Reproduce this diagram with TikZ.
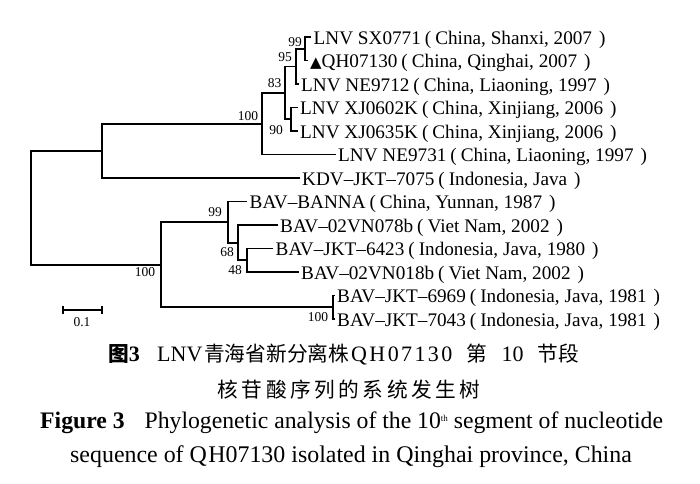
\documentclass[tikz,border=0pt]{standalone}
\usepackage{fontspec}
\setmainfont{Liberation Serif}
\newfontfamily\cjk{Noto Sans CJK SC}
\newfontfamily\symf{DejaVu Sans}
\newcommand{\myLP}{\hspace{4pt}(\hspace{4pt}}
\newcommand{\myRP}{\hspace{7pt})}
\begin{document}
\begin{tikzpicture}[x=1pt,y=-1pt,
  br/.style={line width=1.8pt,line join=miter},
  leaf/.style={anchor=west,inner xsep=2.5pt,inner ysep=0pt,text height=15pt,text depth=1pt,font=\fontsize{19.2}{20}\selectfont},
  bs/.style={inner sep=0pt,font=\fontsize{13.5}{14}\selectfont},
  captext/.style={inner sep=0pt,font=\fontsize{23.7}{26}\selectfont}]
\useasboundingbox (0,0) rectangle (700,483);
\fill[white] (0,0) rectangle (700,483);

% leaves
\node[leaf] (n0) at (311,37) {LNV SX0771\myLP China, Shanxi, 2007\myRP};
\node[leaf] (n1) at (307.5,60.5) {{\symf\fontsize{15}{15}\selectfont ▲}QH07130\myLP China, Qinghai, 2007\myRP};
\node[leaf] (n2) at (298.5,84) {LNV NE9712\myLP China, Liaoning, 1997\myRP};
\node[leaf] (n3) at (297.5,107.5) {LNV XJ0602K\myLP China, Xinjiang, 2006\myRP};
\node[leaf] (n4) at (297.5,131) {LNV XJ0635K\myLP China, Xinjiang, 2006\myRP};
\node[leaf] (n5) at (335.5,154.5) {LNV NE9731\myLP China, Liaoning, 1997\myRP};
\node[leaf] (n6) at (299.5,178) {KDV–JKT–7075\myLP Indonesia, Java\myRP};
\node[leaf] (n7) at (247,201.5) {BAV–BANNA\myLP China, Yunnan, 1987\myRP};
\node[leaf] (n8) at (277.5,225) {BAV–02VN078b\myLP Viet Nam, 2002\myRP};
\node[leaf] (n9) at (273,248.5) {BAV–JKT–6423\myLP Indonesia, Java, 1980\myRP};
\node[leaf] (n10) at (298.5,272) {BAV–02VN018b\myLP Viet Nam, 2002\myRP};
\node[leaf] (n11) at (334.5,295.5) {BAV–JKT–6969\myLP Indonesia, Java, 1981\myRP};
\node[leaf] (n12) at (334.5,319) {BAV–JKT–7043\myLP Indonesia, Java, 1981\myRP};

% internal nodes
\coordinate (F) at (305,48.75);
\coordinate (D) at (296,66.4);
\coordinate (E) at (291,119.25);
\coordinate (C) at (285,92.8);
\coordinate (B) at (262,123.65);
\coordinate (A) at (102,150.8);
\coordinate (G) at (247,260.25);
\coordinate (H) at (238,242.6);
\coordinate (I) at (228,222.05);
\coordinate (J) at (333,307.25);
\coordinate (K) at (161,264.65);
\coordinate (R) at (31,207.7);

% branches
\draw[br] (n0.west) -| (F) |- (n1.west);
\draw[br] (F) -| (D) |- (n2.west);
\draw[br] (n3.west) -| (E) |- (n4.west);
\draw[br] (D) -| (C) |- (E);
\draw[br] (C) -| (B) |- (n5.west);
\draw[br] (B) -| (A) |- (n6.west);
\draw[br] (n9.west) -| (G) |- (n10.west);
\draw[br] (n8.west) -| (H) |- (G);
\draw[br] (n7.west) -| (I) |- (H);
\draw[br] (n11.west) -| (J) |- (n12.west);
\draw[br] (I) -| (K) |- (J);
\draw[br] (A) -| (R) |- (K);

% bootstrap values
\node[bs] (b1) at (295,42) {99};
\node[bs] (b2) at (285,57) {95};
\node[bs] (b3) at (274.5,83) {83};
\node[bs] (b4) at (276,130) {90};
\node[bs] (b5) at (248,116) {100};
\node[bs] (b6) at (215,212) {99};
\node[bs] (b7) at (227,252) {68};
\node[bs] (b8) at (235,270) {48};
\node[bs] (b9) at (145,272) {100};
\node[bs] (b10) at (318,317) {100};

% scale bar
\coordinate (s1) at (62.7,310);
\coordinate (s2) at (101.7,310);
\draw[line width=1.6pt] (s1) -- (s2);
\draw[line width=1.6pt] ([yshift=-4pt]s1) -- ([yshift=4pt]s1);
\draw[line width=1.6pt] ([yshift=-4pt]s2) -- ([yshift=4pt]s2);
\node[bs] (sl) at (82,322) {0.1};

% caption
\node[captext,anchor=west,font=\fontsize{22}{24}\selectfont] (c1) at (108,355) {\makebox[49pt][l]{{\cjk\bfseries\fontsize{20.7}{24}\selectfont 图}\textbf{3}}\makebox[47pt][l]{LNV}\makebox[147pt][l]{\cjk\fontsize{20.7}{24}\selectfont 青海省新分离株}\makebox[115.4pt][l]{Q\kern2.4pt H\kern2.4pt 0\kern2.4pt 7\kern2.4pt 1\kern2.4pt 3\kern2.4pt 0}\makebox[34.9pt][l]{\cjk\fontsize{20.7}{24}\selectfont 第}\makebox[36.2pt][l]{10}{\cjk\fontsize{20.7}{24}\selectfont 节段}};
\node[captext] (c2) at (349,390) {\cjk\fontsize{20.7}{24}\selectfont 核\kern3.5pt 苷\kern3.5pt 酸\kern3.5pt 序\kern3.5pt 列\kern3.5pt 的\kern3.5pt 系\kern3.5pt 统\kern3.5pt 发\kern3.5pt 生\kern3.5pt 树};
\node[captext,anchor=west] (c3) at (40,423) {\textbf{Figure 3}\hspace{20pt}Phylogenetic analysis of the 10\raisebox{7pt}{\fontsize{9}{9}\selectfont th} segment of nucleotide};
\node[captext,anchor=west,font=\fontsize{23.9}{26}\selectfont] (c4) at (70,457) {sequence of Q\kern1.5pt H07130 isolated in Qinghai province, China};
\end{tikzpicture}
\end{document}
